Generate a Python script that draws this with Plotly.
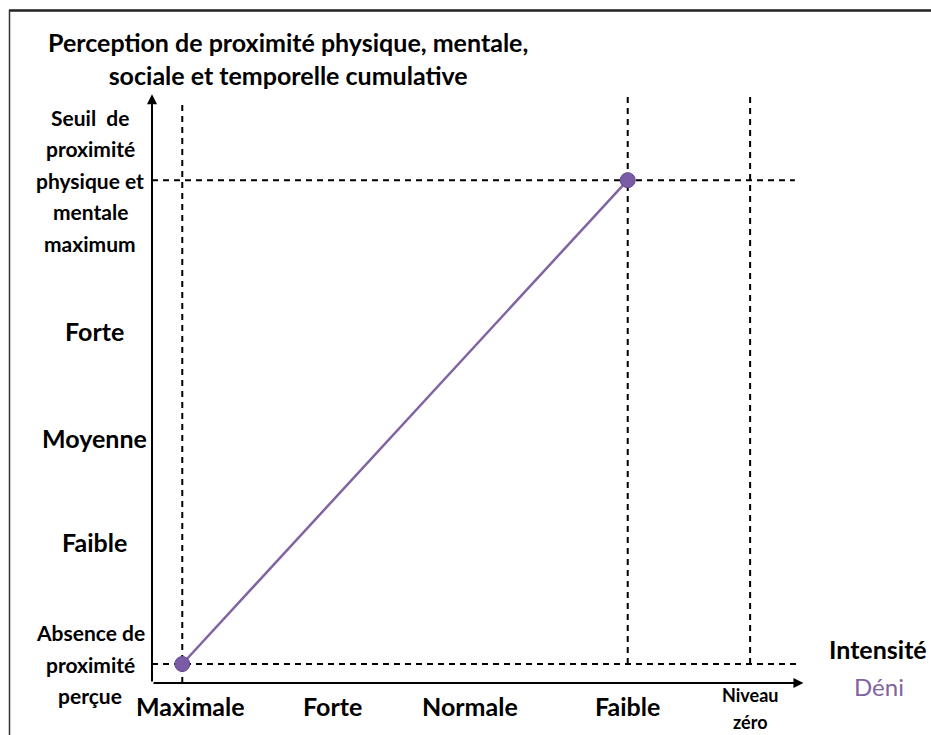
import plotly.graph_objects as go

# ---- data ----
x_labels = ["Maximale", "Forte", "Normale", "Faible", "Niveau<br>zéro"]
x_pos = [0.46, 2.74, 4.83, 7.23, 9.09]
y_labels = ["Absence de<br>proximité<br>perçue", "Faible", "Moyenne", "Forte",
            "Seuil  de<br>proximité<br>physique et<br>mentale<br>maximum"]
y_pos = [0.32, 2.38, 4.13, 5.94, 8.48]
line_x = [x_pos[0], x_pos[3]]
line_y = [y_pos[0], y_pos[4]]

FONT = "Lato"
PURPLE = "#8064A2"

W, H = 931, 735
L, R, T, B = 152, 810, 90, 683  # plot area in page pixels


def px2paper_x(px):
    return (px - L) / (R - L)


def px2paper_y(py):
    return (B - py) / (B - T)


fig = go.Figure()
fig.add_trace(go.Scatter(
    x=line_x, y=line_y, mode="lines+markers",
    line=dict(color=PURPLE, width=2.5),
    marker=dict(size=15, color="#7A5BA6", line=dict(color="#65498F", width=1)),
    hoverinfo="skip", showlegend=False, cliponaxis=False,
))

dash = "6px,5px"
shapes = []
shapes.append(dict(type="line", xref="x", yref="y", x0=x_pos[0], x1=x_pos[0], y0=0, y1=9.75,
                   layer="below", line=dict(color="black", width=2, dash=dash)))
for xv in (x_pos[3], x_pos[4]):
    shapes.append(dict(type="line", xref="x", yref="y", x0=xv, x1=xv, y0=y_pos[0], y1=9.88,
                       layer="below", line=dict(color="black", width=2, dash=dash)))
shapes.append(dict(type="line", xref="x", yref="y", x0=0, x1=9.77, y0=y_pos[4], y1=y_pos[4],
                   layer="below", line=dict(color="black", width=2, dash=dash)))
shapes.append(dict(type="line", xref="x", yref="y", x0=0, x1=9.85, y0=y_pos[0], y1=y_pos[0],
                   layer="below", line=dict(color="black", width=2, dash=dash)))
# frame
shapes.append(dict(type="line", xref="paper", yref="paper",
                   x0=px2paper_x(9), x1=px2paper_x(945), y0=px2paper_y(10.5), y1=px2paper_y(10.5),
                   line=dict(color="#222", width=2.5)))
shapes.append(dict(type="line", xref="paper", yref="paper",
                   x0=px2paper_x(9.5), x1=px2paper_x(9.5), y0=px2paper_y(10), y1=px2paper_y(750),
                   line=dict(color="#333", width=1.5)))

annotations = []
annotations.append(dict(x=0, y=9.93, ax=0, ay=0, xref="x", yref="y", axref="x", ayref="y",
                        text="", showarrow=True, arrowhead=2, arrowsize=1, arrowwidth=2,
                        arrowcolor="black"))
annotations.append(dict(x=9.9, y=0, ax=0, ay=0, xref="x", yref="y", axref="x", ayref="y",
                        text="", showarrow=True, arrowhead=2, arrowsize=1, arrowwidth=2,
                        arrowcolor="black"))


def multiline(lines, spacing):
    n = len(lines)
    return [(ln, (n - 1) / 2 * spacing - i * spacing) for i, ln in enumerate(lines)]


# x tick labels
for lab, xv in zip(x_labels, x_pos):
    parts = lab.split("<br>")
    if len(parts) > 1:
        for ln, dy in multiline(parts, 27):
            annotations.append(dict(x=xv, y=px2paper_y(708), xref="x", yref="paper", text=ln,
                                    showarrow=False, xanchor="center", yanchor="middle", yshift=dy,
                                    font=dict(family=FONT, size=18, color="black", weight=700)))
    else:
        annotations.append(dict(x=xv, y=px2paper_y(706), xref="x", yref="paper", text=lab,
                                showarrow=False, xanchor="center", yanchor="middle",
                                xshift=8 if xv == x_pos[0] else 0,
                                font=dict(family=FONT, size=25, color="black", weight=700)))
# y tick labels
for lab, yv in zip(y_labels, y_pos):
    parts = lab.split("<br>")
    if len(parts) > 1:
        for ln, dy in multiline(parts, 31.5):
            annotations.append(dict(x=px2paper_x(90), y=yv, xref="paper", yref="y", text=ln,
                                    showarrow=False, xanchor="center", yanchor="middle", yshift=dy,
                                    font=dict(family=FONT, size=21, color="black", weight=700)))
    else:
        annotations.append(dict(x=px2paper_x(94), y=yv, xref="paper", yref="y", text=lab,
                                showarrow=False, xanchor="center", yanchor="middle",
                                font=dict(family=FONT, size=25, color="black", weight=700)))
# title
annotations.append(dict(x=px2paper_x(288), y=px2paper_y(58), xref="paper", yref="paper",
                        text="Perception de proximité physique, mentale,<br>sociale et temporelle cumulative",
                        showarrow=False, xanchor="center", yanchor="middle", align="center",
                        font=dict(family=FONT, size=25, color="black", weight=700)))
annotations.append(dict(x=px2paper_x(878), y=px2paper_y(649), xref="paper", yref="paper",
                        text="Intensité", showarrow=False, xanchor="center", yanchor="middle",
                        font=dict(family=FONT, size=25, color="black", weight=700)))
annotations.append(dict(x=px2paper_x(879), y=px2paper_y(686), xref="paper", yref="paper",
                        text="Déni", showarrow=False, xanchor="center", yanchor="middle",
                        font=dict(family=FONT, size=24, color=PURPLE)))

fig.update_layout(
    width=W, height=H,
    margin=dict(l=L, r=W - R, t=T, b=H - B, pad=0),
    paper_bgcolor="white", plot_bgcolor="white",
    xaxis=dict(range=[0, 10], visible=False, fixedrange=True),
    yaxis=dict(range=[0, 10], visible=False, fixedrange=True),
    shapes=shapes, annotations=annotations,
    showlegend=False,
)

fig.write_html(
    "out.html",
    config={"displayModeBar": False},
    post_script="document.body.style.margin='0';document.body.style.overflow='hidden';",
)
